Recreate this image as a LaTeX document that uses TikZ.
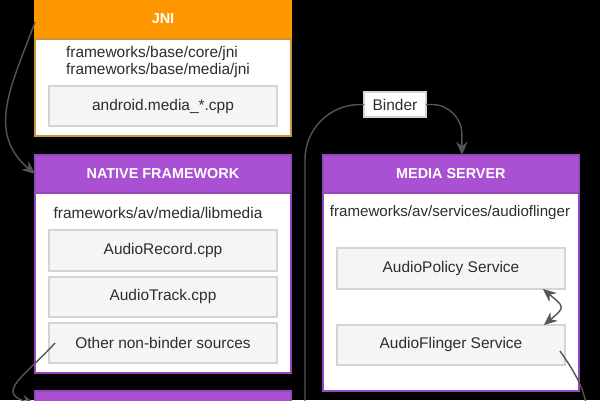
\documentclass[tikz,border=0pt]{standalone}
\usepackage{fontspec}
\setmainfont{Liberation Sans}
\usetikzlibrary{positioning,arrows.meta}
\definecolor{jniorange}{RGB}{255,152,0}
\definecolor{jniborder}{RGB}{205,150,60}
\definecolor{nativepurple}{RGB}{170,80,210}
\definecolor{purpleborder}{RGB}{150,70,190}
\definecolor{filebg}{RGB}{245,245,245}
\definecolor{fileborder}{RGB}{205,215,212}
\definecolor{linegray}{RGB}{85,85,85}
\definecolor{textgray}{RGB}{45,45,45}
\tikzstyle{header} = [rectangle, text=white, line width=0.9pt, outer sep=0pt, minimum width=5.12cm, minimum height=0.76cm, inner sep=0pt, font=\fontsize{8.2}{10}\selectfont\bfseries]
\tikzstyle{layer} = [rectangle, fill=white, line width=0.9pt, outer sep=0pt, minimum width=5.12cm, inner sep=0pt]
\tikzstyle{srcfile} = [rectangle, fill=filebg, draw=fileborder, line width=0.7pt, outer sep=0pt, minimum width=4.56cm, minimum height=0.8cm, text=textgray, font=\fontsize{8.8}{10}\selectfont]
\tikzstyle{srcpath} = [text=textgray, align=left, inner sep=0pt, font=\fontsize{8.8}{9.6}\selectfont]
\tikzstyle{wire} = [draw=linegray, line width=0.8pt]

\begin{document}
\begin{tikzpicture}[x=0.02cm, y=-0.02cm, >={Stealth[length=7.5pt,width=6.5pt]}]
\fill[black] (0,0) rectangle (600,400);
\useasboundingbox (0,0) rectangle (600,400);

% Define nodes
\node[header, fill=jniorange, draw=jniorange, minimum height=0.8cm, anchor=north west]   (jnihead)     at (35,-1)  {JNI};
\node[layer, draw=jniborder, minimum height=1.94cm, below = 0pt of jnihead]              (jni)         {};
\node[srcpath]                                                                          (jnipath)     at (158,62) {frameworks/base/core/jni\\frameworks/base/media/jni};
\node[srcfile]                                                                          (mediacpp)    at (163,106) {android.media\_*.cpp};

\node[header, fill=nativepurple, draw=purpleborder, anchor=north west]                   (nativehead)  at (35,155) {NATIVE FRAMEWORK};
\node[layer, draw=purpleborder, minimum height=3.6cm, below = 0pt of nativehead]         (native)      {};
\node[srcpath]                                                                          (nativepath)  at (158,213) {frameworks/av/media/libmedia};
\node[srcfile, minimum height=0.82cm]                                                   (record)      at (163,250.5) {AudioRecord.cpp};
\node[srcfile, below = 0.12cm of record]                                                (track)       {AudioTrack.cpp};
\node[srcfile, below = 0.12cm of track]                                                 (other)       {Other non-binder sources};

\node[header, fill=nativepurple, draw=purpleborder, anchor=north west]                   (bottomhead)  at (35,391) {};

\node[header, fill=nativepurple, draw=purpleborder, right = 0.64cm of nativehead]         (mediahead)   {MEDIA SERVER};
\node[layer, draw=purpleborder, minimum height=3.96cm, below = 0pt of mediahead]         (media)       {};
\node[srcpath, font=\fontsize{8.6}{9.6}\selectfont]                                     (mediapath)   at (450,213) {frameworks/av/services/audioflinger};
\node[srcfile, minimum height=0.82cm]                                                   (policy)      at (451,268.5) {AudioPolicy Service};
\node[srcfile, below = 0.72cm of policy]                                                (flinger)     {AudioFlinger Service};

\node[srcfile, minimum width=1.24cm, minimum height=0.5cm, fill=white]                  (binder)      at (395,104.5) {Binder};

\coordinate (binderin)   at (305,425);
\coordinate (flingerout) at (588,425);

% Edges
\draw[wire, ->] ([yshift=-0.06cm]jnihead.west) to[out=250, in=140, looseness=1.1] (nativehead.west);
\draw[wire, ->] ([xshift=0.12cm]other.west) to[out=228, in=165, looseness=1.7] ([yshift=-0.26cm]bottomhead.north west);
\draw[wire, rounded corners=1.1cm] (binderin) |- (binder.west);
\draw[wire, ->, rounded corners=0.6cm] (binder.east) -| ([xshift=0.22cm]mediahead.north);
\draw[wire, <->] ([xshift=-0.44cm]policy.south east) to[out=-40, in=40, looseness=2] ([xshift=-0.42cm]flinger.north east);
\draw[wire] ([xshift=-0.1cm,yshift=-0.12cm]flinger.east) to[out=-55, in=90] (flingerout);
\end{tikzpicture}
\end{document}
